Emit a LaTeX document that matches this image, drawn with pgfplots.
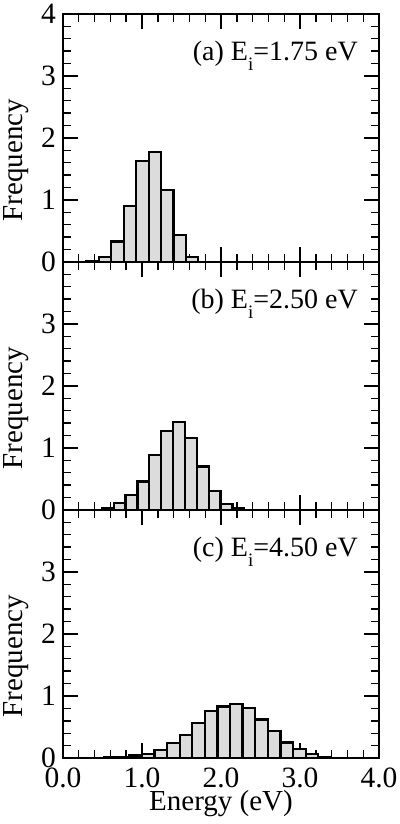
\documentclass[border=0pt]{standalone}
\usepackage{fontspec}
\setmainfont{Liberation Serif}
\usepackage{pgfplots}
\pgfplotsset{compat=1.18}
\definecolor{barfill}{HTML}{DCDCDC}
\newcommand{\bigfont}{\fontsize{29.5}{34}\selectfont}
\newcommand{\labfont}{\fontsize{29}{34}\selectfont}
\pgfplotsset{
  panel/.style={
    scale only axis, width=316pt, height=248pt,
    xmin=0, xmax=4, ymin=0, ymax=4,
    xtick={0,1,2,3,4}, ytick={0,1,2,3,4},
    minor x tick num=4, minor y tick num=4,
    tick align=inside, xtick pos=both, ytick pos=both,
    major tick length=15pt, minor tick length=8pt,
    axis line style={line width=1.4pt},
    every tick/.style={line width=1.4pt, black},
    yticklabel style={font=\bigfont, anchor=east, inner sep=0pt, xshift=-7pt},
    xticklabel style={font=\bigfont, anchor=base, inner sep=0pt, yshift=-29pt},
    ylabel={Frequency},
    ylabel style={font=\labfont, at={(axis description cs:-0.128,0.41)}, anchor=base, inner sep=0pt},
  },
  bars/.style={ybar interval, fill=barfill, draw=black, line width=2.2pt},
}
\newcommand{\plabel}[2]{\node[font=\fontsize{28}{33}\selectfont, anchor=base east, inner sep=0pt] at ([xshift=-21pt,yshift=-47pt]rel axis cs:1,1) {(#1) E\raisebox{-0.35em}{\fontsize{19}{19}\selectfont i}=#2 eV};}
\begin{document}
\begin{tikzpicture}[font=\fontsize{28}{33}\selectfont]
% panel (a)
\begin{axis}[panel, at={(0,496pt)}, anchor=south west,
  xticklabels={}, yticklabels={0,1,2,3,4}]
\addplot[bars] coordinates {
(0.140,0.005) (0.297,0.02) (0.455,0.075) (0.612,0.33) (0.769,0.905)
(0.927,1.63) (1.084,1.78) (1.241,1.16) (1.398,0.43) (1.556,0.085)
(1.713,0.005) (1.870,0.005)};
\plabel{a}{1.75}
\end{axis}
% panel (b)
\begin{axis}[panel, at={(0,248pt)}, anchor=south west,
  xticklabels={}, yticklabels={0,1,2,3,{}}]
\addplot[bars] coordinates {
(0.340,0.005) (0.490,0.03) (0.641,0.11) (0.791,0.245) (0.942,0.46)
(1.092,0.89) (1.242,1.27) (1.393,1.42) (1.543,1.155) (1.694,0.70)
(1.844,0.31) (1.994,0.10) (2.145,0.027) (2.295,0.005) (2.445,0.005)};
\plabel{b}{2.50}
\end{axis}
% panel (c)
\begin{axis}[panel, at={(0,0)}, anchor=south west,
  xticklabels={0.0,1.0,2.0,3.0,4.0}, yticklabels={0,1,2,3,{}},
  xlabel={Energy (eV)},
  xlabel style={font=\labfont, at={(axis description cs:0.5,0)}, anchor=base, inner sep=0pt, yshift=-52pt}]
\addplot[bars] coordinates {
(0.201,0.003) (0.360,0.005) (0.520,0.01) (0.679,0.016) (0.839,0.04)
(0.998,0.07) (1.157,0.13) (1.317,0.24) (1.476,0.37) (1.636,0.56)
(1.795,0.76) (1.955,0.83) (2.114,0.87) (2.273,0.80) (2.433,0.62)
(2.592,0.435) (2.752,0.25) (2.911,0.145) (3.071,0.065) (3.230,0.02)
(3.390,0.005) (3.549,0.005)};
\plabel{c}{4.50}
\end{axis}
\pgfresetboundingbox
\path (-63pt,-66pt) rectangle (336pt,758pt);
\end{tikzpicture}
\end{document}
